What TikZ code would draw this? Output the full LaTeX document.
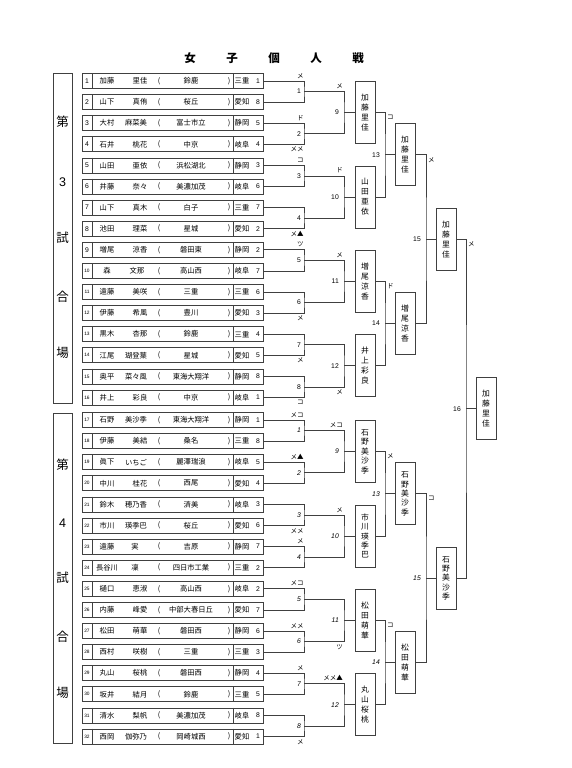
\documentclass[tikz,border=0pt]{standalone}
\usepackage{fontspec}
\setmainfont{Noto Sans CJK JP}
\newfontfamily\numfont{Liberation Sans}
\begin{document}
\begin{tikzpicture}[x=1pt,y=-1pt,
  ln/.style={draw=black!75,line width=0.8pt},
  rowbox/.style={draw=black!75,line width=0.8pt,minimum width=181pt,minimum height=15pt,inner sep=0pt,anchor=west},
  jtxt/.style={inner sep=0pt,font=\fontsize{7.3}{8}\selectfont},
  ntxt/.style={inner sep=0pt,font=\numfont\fontsize{6.8}{7}\selectfont},
  stxt/.style={inner sep=0pt,font=\numfont\fontsize{4.8}{5}\selectfont},
  mtxt/.style={inner sep=0pt,font=\fontsize{6.5}{7}\selectfont},
  labr/.style={inner sep=0pt,anchor=east,font=\numfont\fontsize{6.8}{7}\selectfont},
  labi/.style={inner sep=0pt,anchor=east,font=\numfont\itshape\fontsize{6.8}{7}\selectfont},
  vbox/.style={draw=black!75,line width=0.8pt,minimum width=20pt,minimum height=62pt,inner sep=0pt,align=center,font=\fontsize{7.8}{10}\selectfont},
  vboxf/.style={vbox,font=\fontsize{7.8}{9.4}\selectfont},
  venue/.style={draw=black!75,line width=0.8pt,minimum width=19pt,minimum height=330pt,inner sep=0pt},
  vtxt/.style={inner sep=0pt,font=\fontsize{12.5}{12}\selectfont},
  vnum/.style={inner sep=0pt,font=\numfont\fontsize{12.5}{12}\selectfont},
  ttxt/.style={inner sep=0pt,font=\bfseries\fontsize{11.5}{11}\selectfont}
]
\useasboundingbox (0,0) rectangle (572,768);

% title
\foreach \c/\x [count=\n] in {女/190,子/232,個/274,人/316,戦/358}
  \node[ttxt] (title\n) at (\x,58) {\c};

% venue boxes
\node[venue] (ven1) at (62.5,238) {};
\node[venue] (ven2) at (62.5,578) {};
\node[vtxt] (va1) at (62.5,122) {第};
\node[vnum] (va2) at (62.5,182) {3};
\node[vtxt] (va3) at (62.5,238) {試};
\node[vtxt] (va4) at (62.5,297) {合};
\node[vtxt] (va5) at (62.5,353) {場};
\node[vtxt] (vb1) at (62.5,465) {第};
\node[vnum] (vb2) at (62.5,523) {4};
\node[vtxt] (vb3) at (62.5,578) {試};
\node[vtxt] (vb4) at (62.5,637) {合};
\node[vtxt] (vb5) at (62.5,693) {場};

% player rows
\foreach \i/\fam/\giv/\gx/\sch/\pref/\pn in {
 1/加藤/里佳/140/鈴鹿/三重/1,
 2/山下/真侑/140/桜丘/愛知/8,
 3/大村/麻菜美/136/富士市立/静岡/5,
 4/石井/桃花/140/中京/岐阜/4,
 5/山田/亜依/140/浜松湖北/静岡/3,
 6/井藤/奈々/140/美濃加茂/岐阜/6,
 7/山下/真木/140/白子/三重/7,
 8/池田/理菜/140/星城/愛知/2,
 9/増尾/涼香/140/磐田東/静岡/2,
 10/森/文那/137/高山西/岐阜/7,
 11/遠藤/美咲/140/三重/三重/6,
 12/伊藤/希風/140/豊川/愛知/3,
 13/黒木/杏那/140/鈴鹿/三重/4,
 14/江尾/瑚登葉/136/星城/愛知/5,
 15/奥平/菜々風/136/東海大翔洋/静岡/8,
 16/井上/彩良/140/中京/岐阜/1,
 17/石野/美沙季/136/東海大翔洋/静岡/1,
 18/伊藤/美結/140/桑名/三重/8,
 19/眞下/いちご/136/麗澤瑞浪/岐阜/5,
 20/中川/桂花/140/西尾/愛知/4,
 21/鈴木/穂乃香/136/済美/岐阜/3,
 22/市川/瑛季巴/136/桜丘/愛知/6,
 23/遠藤/実/135/吉原/静岡/7,
 24/長谷川/凜/135/四日市工業/三重/2,
 25/樋口/恵淑/140/高山西/岐阜/2,
 26/内藤/峰愛/140/中部大春日丘/愛知/7,
 27/松田/萌華/140/磐田西/静岡/6,
 28/西村/咲樹/140/三重/三重/3,
 29/丸山/桜桃/140/磐田西/静岡/4,
 30/坂井/結月/140/鈴鹿/三重/5,
 31/清水/梨帆/140/美濃加茂/岐阜/8,
 32/西岡/伽弥乃/136/岡崎城西/愛知/1}{
  \pgfmathsetmacro\yy{\i<17 ? 81+(\i-1)*21.1 : 420+(\i-17)*21.1}
  \node[rowbox] (r\i) at (82,\yy) {};
  \draw[ln] ([xshift=10pt]r\i.north west) -- ([xshift=10pt]r\i.south west);
  \draw[ln] ([xshift=-30pt]r\i.north east) -- ([xshift=-30pt]r\i.south east);
  \ifnum\i<10
    \node[ntxt] (n\i) at (87,\yy) {\i};
  \else
    \node[stxt] (n\i) at (87,\yy) {\i};
  \fi
  \node[jtxt] (f\i) at (107,\yy) {\fam};
  \node[jtxt] (g\i) at (\gx,\yy) {\giv};
  \node[jtxt] (lp\i) at (159,\yy) {(};
  \node[jtxt] (sc\i) at (191,\yy) {\sch};
  \node[jtxt] (rp\i) at (229,\yy) {)};
  \node[jtxt] (pf\i) at (242,\yy) {\pref};
  \node[ntxt] (pn\i) at (258,\yy) {\pn};
}

% round 1
\foreach \m in {1,...,16}{
  \pgfmathtruncatemacro\a{2*\m-1}
  \pgfmathtruncatemacro\b{2*\m}
  \pgfmathsetmacro\py{\m<9 ? 81+(2*\m-1.5)*21.1 : 420+(2*\m-16-1.5)*21.1}
  \coordinate (p\m) at (304,\py);
  \draw[ln] (r\a.east) -| (p\m) |- (r\b.east);
}
\foreach \m in {1,...,8}
  \node[labr] (l\m) at ([xshift=-3pt]p\m) {\m};
\foreach \m in {9,...,16}{
  \pgfmathtruncatemacro\k{\m-8}
  \node[labi] (l\m) at ([xshift=-3pt]p\m) {\k};
}

% round 2
\foreach \k/\y in {1/112.65,2/197.05,3/281.45,4/365.85,5/451.65,6/536.05,7/620.45,8/704.85}
  \coordinate (q\k) at (344,\y);
\node[vbox] (w1) at (365,112.65) {加\\藤\\里\\佳};
\node[vbox] (w2) at (365,197.05) {山\\田\\亜\\依};
\node[vbox] (w3) at (365,281.45) {増\\尾\\涼\\香};
\node[vbox] (w4) at (365,365.85) {井\\上\\彩\\良};
\node[vboxf] (w5) at (365,451.65) {石\\野\\美\\沙\\季};
\node[vboxf] (w6) at (365,536.05) {市\\川\\瑛\\季\\巴};
\node[vbox] (w7) at (365,620.45) {松\\田\\萌\\華};
\node[vbox] (w8) at (365,704.85) {丸\\山\\桜\\桃};
\foreach \k in {1,...,8}{
  \pgfmathtruncatemacro\a{2*\k-1}
  \pgfmathtruncatemacro\b{2*\k}
  \draw[ln] (p\a) -| (q\k) |- (p\b);
  \draw[ln] (q\k) -- (w\k.west);
}
\foreach \k/\t in {1/9,2/10,3/11,4/12}
  \node[labr] (lq\k) at ([xshift=-5pt]q\k) {\t};
\foreach \k/\t in {5/9,6/10,7/11,8/12}
  \node[labi] (lq\k) at ([xshift=-5pt]q\k) {\t};

% round 3
\coordinate (s1) at (385,154.85);
\coordinate (s2) at (385,323.65);
\coordinate (s3) at (385,493.85);
\coordinate (s4) at (385,662.65);
\node[vbox] (t1) at (405,154.85) {加\\藤\\里\\佳};
\node[vbox] (t2) at (405,323.65) {増\\尾\\涼\\香};
\node[vboxf] (t3) at (405,493.85) {石\\野\\美\\沙\\季};
\node[vbox] (t4) at (405,662.65) {松\\田\\萌\\華};
\foreach \j in {1,...,4}{
  \pgfmathtruncatemacro\a{2*\j-1}
  \pgfmathtruncatemacro\b{2*\j}
  \draw[ln] (w\a.east) -| (s\j) |- (w\b.east);
  \draw[ln] (s\j) -- (t\j.west);
}
\node[labr] (ls1) at ([xshift=-5pt]s1) {13};
\node[labr] (ls2) at ([xshift=-5pt]s2) {14};
\node[labi] (ls3) at ([xshift=-5pt]s3) {13};
\node[labi] (ls4) at ([xshift=-5pt]s4) {14};

% round 4
\coordinate (u1) at (426,239.25);
\coordinate (u2) at (426,578.25);
\node[vbox] (U1) at (446,239.25) {加\\藤\\里\\佳};
\node[vboxf] (U2) at (446,578.25) {石\\野\\美\\沙\\季};
\draw[ln] (t1.east) -| (u1) |- (t2.east);
\draw[ln] (u1) -- (U1.west);
\draw[ln] (t3.east) -| (u2) |- (t4.east);
\draw[ln] (u2) -- (U2.west);
\node[labr] (lu1) at ([xshift=-5pt]u1) {15};
\node[labi] (lu2) at ([xshift=-5pt]u2) {15};

% final
\coordinate (v) at (466,408.75);
\node[vbox] (F) at (486,408.75) {加\\藤\\里\\佳};
\draw[ln] (U1.east) -| (v) |- (U2.east);
\draw[ln] (v) -- (F.west);
\node[labr] (lv) at ([xshift=-5pt]v) {16};

% round 1 marks
\foreach \r/\t in {1/メ,3/ド,5/コ,9/ツ,17/メコ,19/メ▲,23/メ,25/メコ,27/メメ,29/メ}
  \node[mtxt,anchor=south east] (ka\r) at ([xshift=40pt,yshift=2.5pt]r\r.east) {\t};
\foreach \r/\t in {4/メメ,8/メ▲,12/メ,14/メ,16/コ,22/メメ,32/メ}
  \node[mtxt,anchor=north east] (kb\r) at ([xshift=40pt,yshift=-2.5pt]r\r.east) {\t};

% round 2 marks
\foreach \m/\t in {1/メ,3/ド,5/メ,9/メコ,11/メ,15/メメ▲}
  \node[mtxt,anchor=south east] (qa\m) at ([xshift=39pt,yshift=2.5pt]p\m) {\t};
\foreach \m/\t in {8/メ,14/ツ}
  \node[mtxt,anchor=north east] (qb\m) at ([xshift=39pt,yshift=-2.5pt]p\m) {\t};

% later round marks
\node[mtxt,anchor=north west] (m13a) at (387,114.5) {コ};
\node[mtxt,anchor=north west] (m14a) at (387,283.5) {ド};
\node[mtxt,anchor=north west] (m15a) at (428,156.9) {メ};
\node[mtxt,anchor=north west] (m16a) at (468,241.3) {メ};
\node[mtxt,anchor=north west] (m13b) at (387,453.7) {メ};
\node[mtxt,anchor=north west] (m14b) at (387,622.5) {コ};
\node[mtxt,anchor=north west] (m15b) at (428,495.9) {コ};
\end{tikzpicture}
\end{document}
